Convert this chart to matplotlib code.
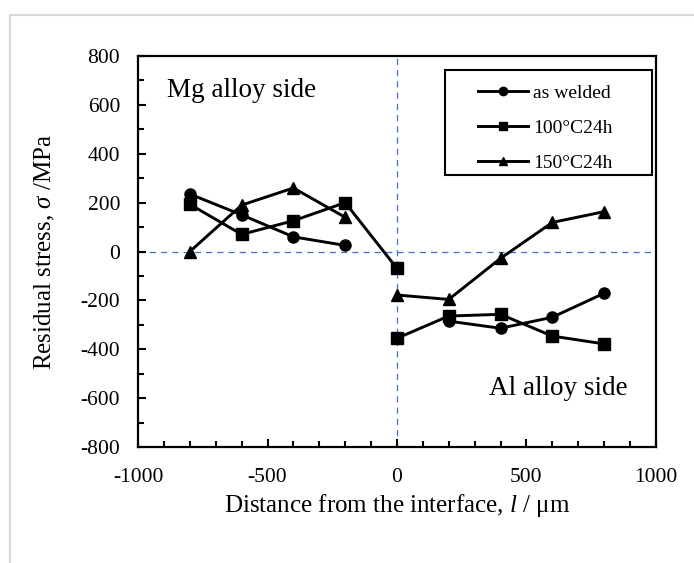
import matplotlib
matplotlib.use('Agg')
import matplotlib.pyplot as plt
from matplotlib.lines import Line2D
from matplotlib.patches import Rectangle
from matplotlib.ticker import MultipleLocator

plt.rcParams['font.family'] = ['Liberation Serif', 'DejaVu Serif']
plt.rcParams['mathtext.fontset'] = 'custom'
plt.rcParams['mathtext.rm'] = 'Liberation Serif'
plt.rcParams['mathtext.it'] = 'Liberation Serif:italic'
plt.rcParams['axes.unicode_minus'] = False

# Mg alloy side (left) and Al alloy side (right)
x_mg = [-800, -600, -400, -200]
welded_mg = [235, 150, 60, 25]
h100_x_mg = [-800, -600, -400, -200, 0]
h100_mg = [193, 70, 126, 200, -69]
h150_mg = [0, 190, 260, 140]

x_al_welded = [200, 400, 600, 800]
welded_al = [-285, -314, -269, -171]
x_al = [0, 200, 400, 600, 800]
h100_al = [-355, -264, -257, -346, -378]
h150_al = [-178, -196, -28, 119, 163]

labels = ['as welded', '100°C24h', '150°C24h']

fig = plt.figure(figsize=(6.94, 5.63), dpi=100)
ax = fig.add_axes([0.199, 0.206, 0.746, 0.6945])

# light grey chart-area frame
fig.add_artist(Line2D([0.0144, 0.0144], [0, 0.973], color='#d9d9d9', lw=1.5))
fig.add_artist(Line2D([0.0144, 1], [0.973, 0.973], color='#d9d9d9', lw=1.5))

ax.axhline(0, color='#4472c4', lw=0.9, ls=(0, (5, 4)), zorder=1)
ax.axvline(0, color='#4472c4', lw=0.9, ls=(0, (5, 4)), zorder=1)

kw = dict(color='black', lw=2.1, markersize=8, zorder=3)
ax.plot(x_mg, welded_mg, marker='o', **kw)
ax.plot(x_al_welded, welded_al, marker='o', **kw)
ax.plot(h100_x_mg, h100_mg, marker='s', **kw)
ax.plot(x_al, h100_al, marker='s', **kw)
ax.plot(x_mg, h150_mg, marker='^', **kw)
ax.plot(x_al, h150_al, marker='^', **kw)

ax.set_xlim(-1000, 1000)
ax.set_ylim(-800, 800)
ax.xaxis.set_major_locator(MultipleLocator(500))
ax.xaxis.set_minor_locator(MultipleLocator(100))
ax.yaxis.set_major_locator(MultipleLocator(200))
ax.yaxis.set_minor_locator(MultipleLocator(100))
ax.tick_params(which='both', direction='in', width=1.5, labelsize=15.5)
ax.tick_params(axis='x', pad=15)
ax.tick_params(axis='y', pad=13)
ax.tick_params(which='major', length=6)
ax.tick_params(which='minor', length=4.5)
for s in ax.spines.values():
    s.set_linewidth(1.6)

ax.set_xlabel(r'Distance from the interface, $l$ / μm', fontsize=18, labelpad=4)
ax.set_ylabel(r'Residual stress, $\sigma$ /MPa', fontsize=18, labelpad=17)

ax.text(0.056, 0.894, 'Mg alloy side', transform=ax.transAxes, fontsize=19.5,
        ha='left', va='baseline')
ax.text(0.946, 0.133, 'Al alloy side', transform=ax.transAxes, fontsize=19.5,
        ha='right', va='baseline')

# legend box drawn separately (wide left padding as in the original)
ax.add_patch(Rectangle((0.593, 0.696), 0.399, 0.268, transform=ax.transAxes,
                       facecolor='white', edgecolor='black', lw=1.5, zorder=4))
handles = [Line2D([], [], color='black', lw=2.1, marker=m, markersize=6)
           for m in ['o', 's', '^']]
ax.legend(handles, labels, loc='upper left', bbox_to_anchor=(0.656, 0.928),
          borderaxespad=0, borderpad=0, fontsize=14, frameon=False,
          handlelength=2.6, labelspacing=0.9, handletextpad=0.25).set_zorder(5)

fig.savefig('out.png', dpi=100)
